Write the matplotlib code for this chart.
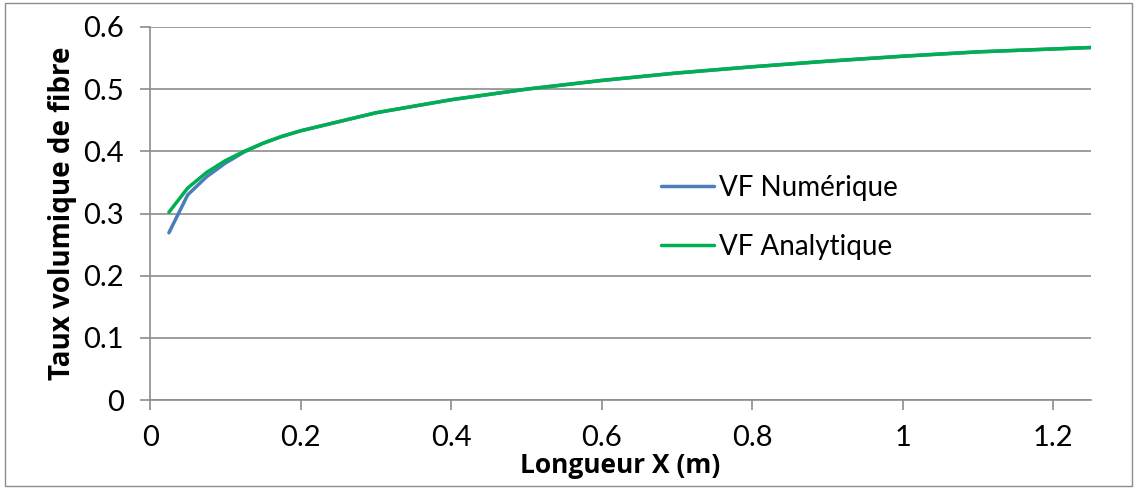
import matplotlib.pyplot as plt
import matplotlib.patches as patches

# valeurs
x_num = [0.025, 0.05, 0.075, 0.1, 0.125, 0.15, 0.175, 0.2, 0.3, 0.4, 0.5, 0.6, 0.7, 0.8, 0.9, 1.0, 1.1, 1.25]
vf_num = [0.269, 0.330, 0.359, 0.381, 0.399, 0.413, 0.424, 0.433, 0.462, 0.483, 0.500, 0.514, 0.526, 0.536, 0.545, 0.553, 0.560, 0.567]

x_ana = [0.025, 0.05, 0.075, 0.1, 0.125, 0.15, 0.175, 0.2, 0.3, 0.4, 0.5, 0.6, 0.7, 0.8, 0.9, 1.0, 1.1, 1.25]
vf_ana = [0.302, 0.341, 0.366, 0.385, 0.400, 0.413, 0.424, 0.433, 0.462, 0.483, 0.500, 0.514, 0.526, 0.536, 0.545, 0.553, 0.560, 0.567]

xticks = [0, 0.2, 0.4, 0.6, 0.8, 1.0, 1.2]
xlabels = ["0", "0.2", "0.4", "0.6", "0.8", "1", "1.2"]
yticks = [0, 0.1, 0.2, 0.3, 0.4, 0.5, 0.6]
ylabels = ["0", "0.1", "0.2", "0.3", "0.4", "0.5", "0.6"]

plt.rcParams['font.family'] = ['Lato', 'DejaVu Sans']

fig = plt.figure(figsize=(11.37, 4.88), dpi=100)
ax = fig.add_axes([0.132, 0.1803, 0.8276, 0.7644])

# cadre autour de la figure
fig.patches.append(patches.Rectangle((0.004, 0.004), 0.992, 0.99, transform=fig.transFigure,
                                     fill=False, edgecolor='#8c8c8c', linewidth=1))

ax.plot(x_num, vf_num, color='#4a7ebb', linewidth=2.5, label='VF Numérique', solid_capstyle='round')
ax.plot(x_ana, vf_ana, color='#00b050', linewidth=2.5, label='VF Analytique', solid_capstyle='round')

ax.set_xlim(0, 1.25)
ax.set_ylim(0, 0.6)
ax.set_xticks(xticks)
ax.set_xticklabels(xlabels)
ax.set_yticks(yticks)
ax.set_yticklabels(ylabels)
ax.tick_params(axis='both', labelsize=21, color='#8c8c8c', length=7, width=1.2)
ax.tick_params(axis='y', pad=12)
ax.tick_params(axis='x', pad=11)

ax.grid(axis='y', color='#8c8c8c', linewidth=1.2)
ax.set_axisbelow(True)
for s in ['top', 'right']:
    ax.spines[s].set_visible(False)
for s in ['left', 'bottom']:
    ax.spines[s].set_color('#8c8c8c')
    ax.spines[s].set_linewidth(1.2)

ax.set_xlabel('Longueur X (m)', fontsize=19, fontweight='bold', family=['Open Sans', 'DejaVu Sans'], labelpad=1)
ax.set_ylabel('Taux volumique de fibre', fontsize=20, fontweight='bold', family=['Open Sans', 'DejaVu Sans'], labelpad=4)

ax.legend(loc='center left', bbox_to_anchor=(0.528, 0.49), frameon=False, fontsize=20, borderpad=0,
          handlelength=1.9, handletextpad=0.18, labelspacing=1.2)

fig.savefig('out.png', dpi=100)
